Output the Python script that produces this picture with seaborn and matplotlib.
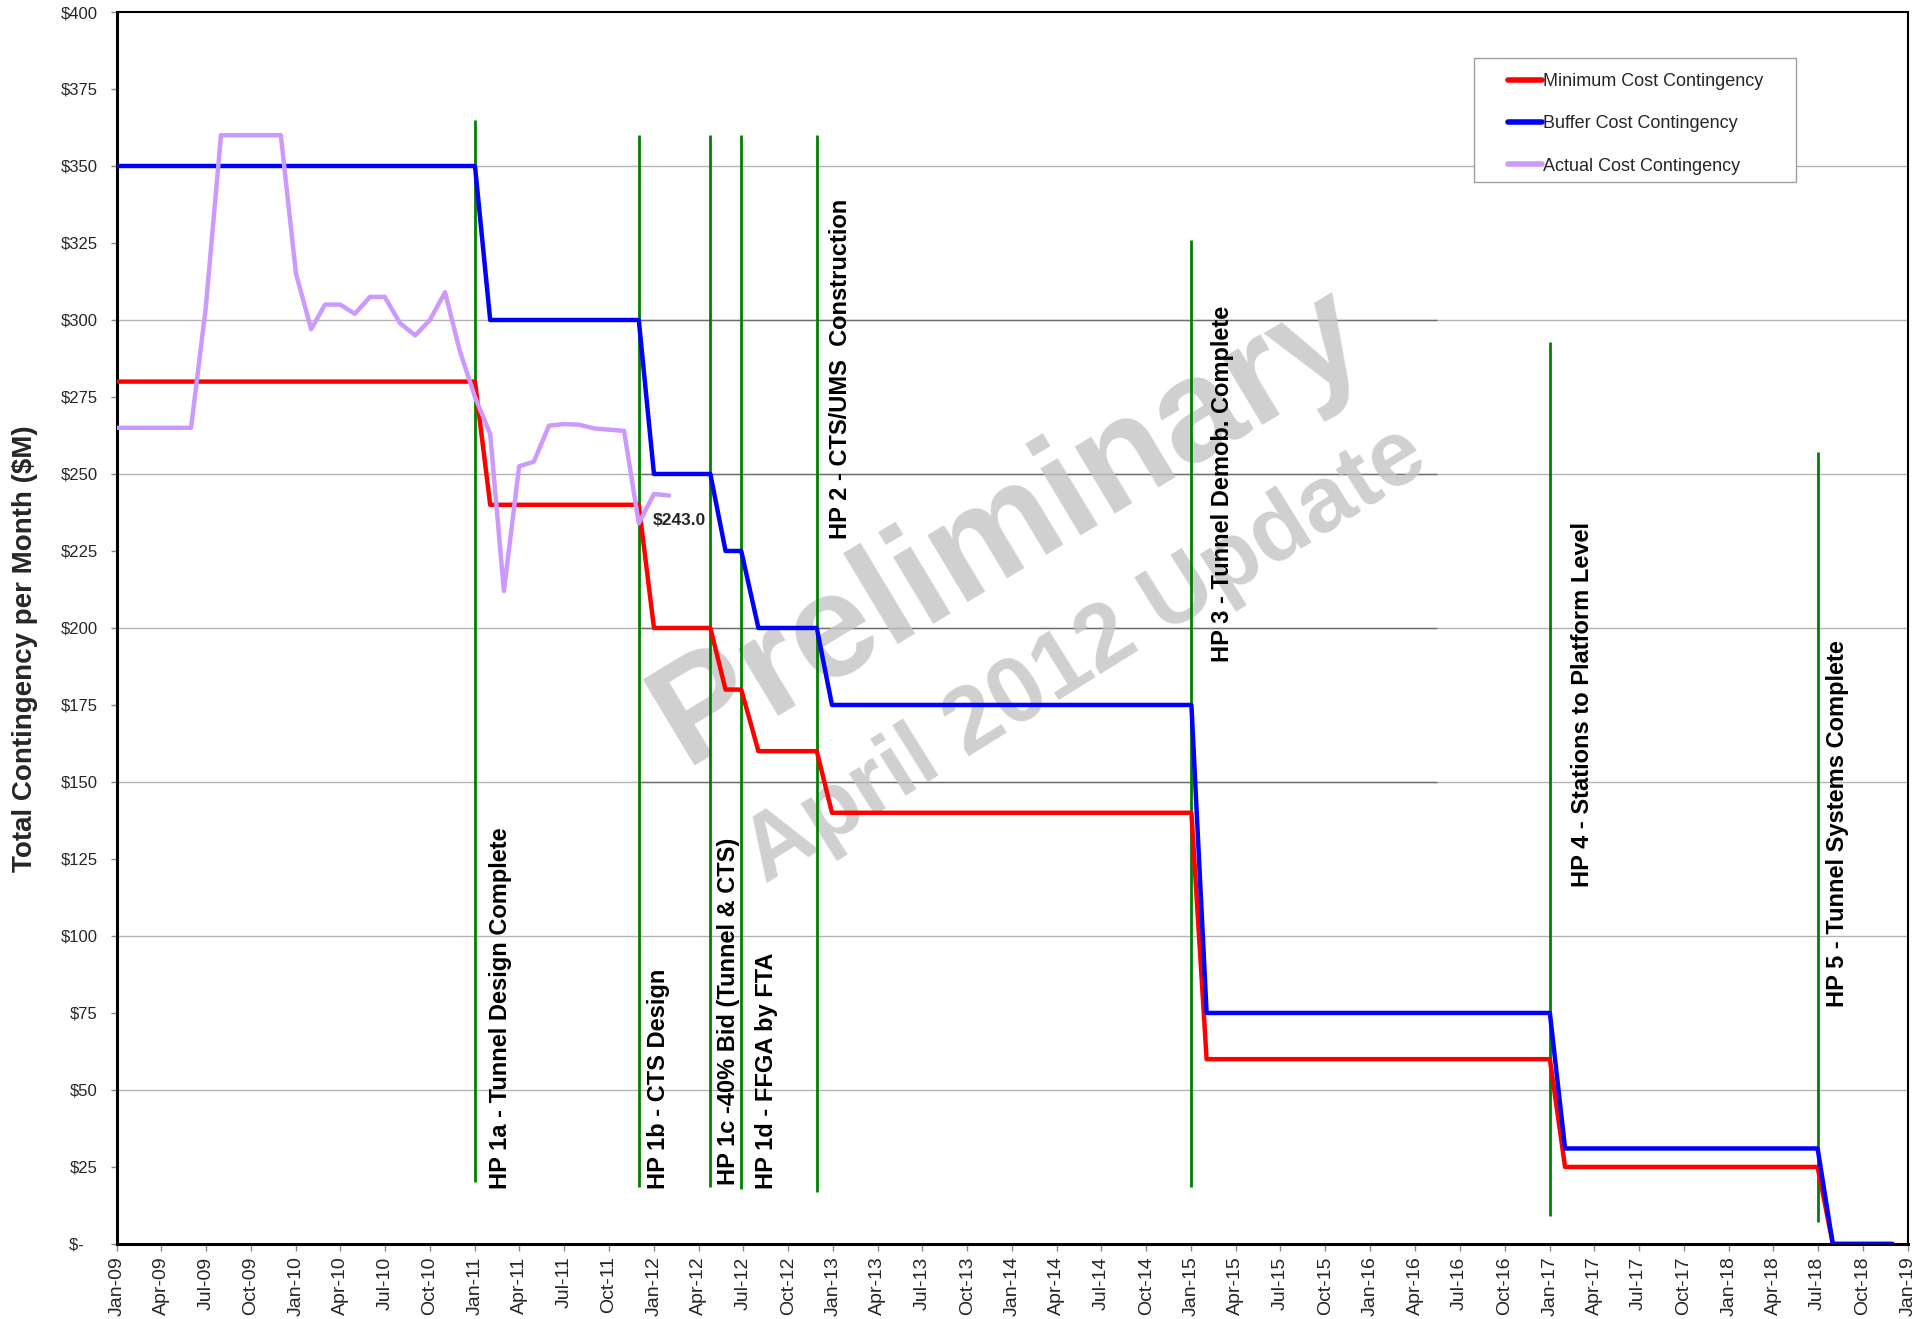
import pandas as pd
import numpy as np
import seaborn as sns
import matplotlib.pyplot as plt
import matplotlib.dates as mdates
import matplotlib.transforms as mtransforms
from matplotlib.patches import Rectangle
from matplotlib.ticker import MultipleLocator, FuncFormatter

# break points of the planned contingency curves
step_dates = ["2009-01-01", "2011-01-01", "2011-02-01", "2011-12-01", "2012-01-01",
              "2012-04-25", "2012-05-26", "2012-06-27", "2012-08-01", "2012-11-28",
              "2012-12-29", "2015-01-01", "2015-02-01", "2017-01-01", "2017-02-01",
              "2018-07-01", "2018-08-01", "2018-12-01"]
min_values = [280, 280, 240, 240, 200, 200, 180, 180, 160, 160, 140, 140,
              60, 60, 25, 25, 0, 0]
buffer_values = [350, 350, 300, 300, 250, 250, 225, 225, 200, 200, 175, 175,
                 75, 75, 31, 31, 0, 0]

# actual contingency, one value per month from Jan-09
actual_start = "2009-01-01"
actual_values = [265, 265, 265, 265, 265, 265, 304, 360, 360, 360, 360, 360,
                 315, 297, 305, 305, 302, 307.5, 307.5, 299, 295, 300, 309, 290,
                 275, 263, 212, 252.5, 254, 265.7, 266.2, 266, 264.8, 264.4, 264,
                 234, 243.5, 243]
last_label = "$243.0"

# hold points
milestone_labels = ["HP 1a - Tunnel Design Complete", "HP 1b - CTS Design",
                    "HP 1c -40% Bid (Tunnel & CTS)", "HP 1d - FFGA by FTA",
                    "HP 2 - CTS/UMS  Construction", "HP 3 - Tunnel Demob. Complete",
                    "HP 4 - Stations to Platform Level", "HP 5 - Tunnel Systems Complete"]
milestone_dates = ["2011-01-01", "2011-12-01", "2012-04-25", "2012-06-27",
                   "2012-11-28", "2015-01-01", "2017-01-01", "2018-07-01"]
milestone_tops = [365, 360, 360, 360, 360, 326, 293, 257]
milestone_bottoms = [20, 18.5, 18.5, 18, 17, 18.5, 9, 7]
milestone_text_start = [18, 18, 19, 18, 229, 189, 116, 77]
text_offsets = [14, 8, 7, 14, 12, 20, 21, 8]

series_names = ["Minimum Cost Contingency", "Buffer Cost Contingency", "Actual Cost Contingency"]
series_colors = ["#FF0000", "#0000FF", "#CC99FF"]

# long table for seaborn
actual_dates = pd.date_range(actual_start, periods=len(actual_values), freq="MS")
df = pd.concat([
    pd.DataFrame({"date": pd.to_datetime(step_dates), "value": min_values, "series": series_names[0]}),
    pd.DataFrame({"date": pd.to_datetime(step_dates), "value": buffer_values, "series": series_names[1]}),
    pd.DataFrame({"date": actual_dates, "value": actual_values, "series": series_names[2]}),
], ignore_index=True)

sns.set_style("white")
plt.rcParams['font.family'] = ['Liberation Sans', 'DejaVu Sans']

fig = plt.figure(figsize=(19.31, 13.19), dpi=100)
ax = fig.add_axes([0.0606, 0.0569, 0.9274, 0.934])

# grid lines
for v in range(50, 400, 50):
    ax.axhline(v, color="#b4b4b4", lw=1, zorder=0)
ax.hlines([150, 200, 250, 300], pd.Timestamp("2011-12-01"), pd.Timestamp("2016-05-15"),
          color="#6e6e6e", lw=1, zorder=0)

# watermark
ax.text(0.498, 0.582, "Preliminary", transform=ax.transAxes, fontsize=106,
        fontweight="bold", color="#c4c4c4", alpha=0.8, rotation=31,
        ha="center", va="center", rotation_mode="anchor", zorder=1)
ax.text(0.541, 0.478, "April 2012 Update", transform=ax.transAxes, fontsize=67,
        fontweight="bold", color="#c4c4c4", alpha=0.8, rotation=32,
        ha="center", va="center", rotation_mode="anchor", zorder=1)

# hold point markers
for lab, d, top, bot, start, off in zip(milestone_labels, milestone_dates, milestone_tops,
                                        milestone_bottoms, milestone_text_start, text_offsets):
    x = pd.Timestamp(d)
    ax.vlines(x, bot, top, color="#008000", lw=2, zorder=2)
    tr = mtransforms.offset_copy(ax.transData, fig=fig, x=off, y=0, units="dots")
    ax.text(x, start, lab, transform=tr, rotation=90, ha="left", va="bottom",
            fontsize=17, fontweight="bold", color="black", zorder=4)

sns.lineplot(data=df, x="date", y="value", hue="series", hue_order=series_names,
             palette=series_colors, estimator=None, sort=False, lw=3.2, ax=ax, zorder=3)

# end label for actual
ax.text(actual_dates[-2], 235, last_label, fontsize=12.5, fontweight="bold",
        ha="left", va="center", zorder=4,
        transform=mtransforms.offset_copy(ax.transData, fig=fig, x=-1, y=0, units="dots"))

# axes
ax.set_xlim(pd.Timestamp("2009-01-01"), pd.Timestamp("2019-01-01"))
ax.set_ylim(0, 400)
ax.yaxis.set_major_locator(MultipleLocator(25))
ax.yaxis.set_major_formatter(FuncFormatter(lambda v, p: "$-   " if v == 0 else f"${int(v)}"))
ax.xaxis.set_major_locator(mdates.MonthLocator(bymonth=[1, 4, 7, 10]))
ax.xaxis.set_major_formatter(mdates.DateFormatter("%b-%y"))
ax.tick_params(axis="y", labelsize=12, length=4, width=1, color="#888888", pad=10, left=True)
ax.tick_params(axis="x", labelsize=14, length=5, width=1, color="#888888", pad=4,
               labelrotation=90, bottom=True)
ax.set_xlabel("")
ax.set_ylabel("")
for side in ["top", "right"]:
    ax.spines[side].set_color("black")
    ax.spines[side].set_linewidth(1.5)
for side in ["left", "bottom"]:
    ax.spines[side].set_color("black")
    ax.spines[side].set_linewidth(2.2)

fig.text(0.013, 0.508, "Total Contingency per Month ($M)", rotation=90, ha="center",
         va="center", fontsize=20, fontweight="bold")

# legend: own frame, entries placed inside it
ax.add_patch(Rectangle((0.758, 0.862), 0.1795, 0.1007, transform=ax.transAxes,
                       facecolor="white", edgecolor="#a0a0a0", lw=1, zorder=5))
handles, labels = ax.get_legend_handles_labels()
leg = ax.legend(handles, labels, loc="upper left", bbox_to_anchor=(0.7767, 0.9505),
                borderaxespad=0, borderpad=0, fontsize=13, frameon=False,
                handlelength=1.9, handletextpad=0.05, labelspacing=1.4)
leg.set_zorder(6)
for line in leg.get_lines():
    line.set_linewidth(4)

fig.savefig("out.png", dpi=100)
